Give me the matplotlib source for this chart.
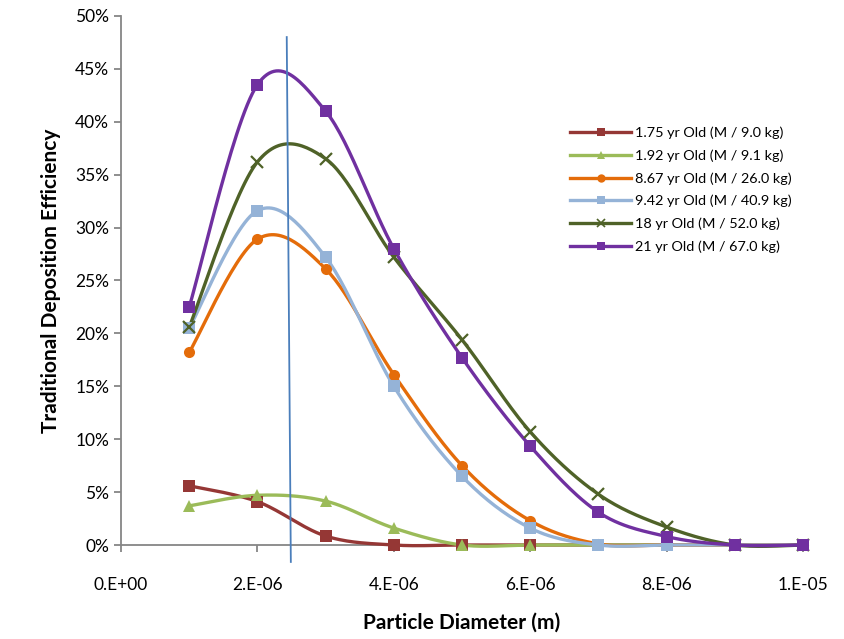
import numpy as np
import matplotlib
matplotlib.use("Agg")
import matplotlib.pyplot as plt
from matplotlib.ticker import FuncFormatter, MultipleLocator

plt.rcParams['font.family'] = ['Lato', 'DejaVu Sans']

# particle diameter (m)
diameters = [1e-6, 2e-6, 3e-6, 4e-6, 5e-6, 6e-6, 7e-6, 8e-6, 9e-6, 1e-5]

labels = [
  "1.75 yr Old (M / 9.0 kg)",
  "1.92 yr Old (M / 9.1 kg)",
  "8.67 yr Old (M / 26.0 kg)",
  "9.42 yr Old (M / 40.9 kg)",
  "18 yr Old (M / 52.0 kg)",
  "21 yr Old (M / 67.0 kg)",
]

eff_175 = [0.056, 0.041, 0.0085, 0.0, 0.0, 0.0, 0.0, 0.0, 0.0, 0.0]
eff_192 = [0.037, 0.047, 0.0415, 0.016, 0.0, 0.0, 0.0, 0.0, 0.0, 0.0]
eff_867 = [0.182, 0.289, 0.261, 0.161, 0.075, 0.023, 0.001, 0.0, 0.0, 0.0]
eff_942 = [0.205, 0.316, 0.272, 0.150, 0.065, 0.016, 0.0, 0.0, 0.0, 0.0]
eff_18 = [0.206, 0.362, 0.365, 0.272, 0.194, 0.107, 0.048, 0.017, 0.0, 0.0]
eff_21 = [0.225, 0.435, 0.410, 0.280, 0.177, 0.0935, 0.031, 0.008, 0.0, 0.0]

# the hand drawn marker line near 2.5 um
marker_line_x = [2.43e-6, 2.49e-6]
marker_line_y = [0.48, -0.016]

series = [eff_175, eff_192, eff_867, eff_942, eff_18, eff_21]
colors = ["#953735", "#9bbb59", "#e46c0a", "#95b3d7", "#4f6228", "#7030a0"]
markers = ["s", "^", "o", "s", "x", "s"]


def smooth(xs, ys, n=30):
  """Excel style smoothed line: cubic bezier with catmull-rom control points."""
  xs = np.asarray(xs, float)
  ys = np.asarray(ys, float)
  px = np.concatenate([[xs[0]], xs, [xs[-1]]])
  py = np.concatenate([[ys[0]], ys, [ys[-1]]])
  out_x, out_y = [], []
  t = np.linspace(0, 1, n)
  for i in range(1, len(px) - 2):
    p0 = np.array([px[i], py[i]])
    p3 = np.array([px[i + 1], py[i + 1]])
    c1 = p0 + (np.array([px[i + 1], py[i + 1]]) - np.array([px[i - 1], py[i - 1]])) / 6
    c2 = p3 - (np.array([px[i + 2], py[i + 2]]) - np.array([px[i], py[i]])) / 6
    b = ((1 - t) ** 3)[:, None] * p0 + (3 * (1 - t) ** 2 * t)[:, None] * c1 \
      + (3 * (1 - t) * t ** 2)[:, None] * c2 + (t ** 3)[:, None] * p3
    out_x.extend(b[:, 0])
    out_y.extend(b[:, 1])
  return np.array(out_x), np.array(out_y)


fig = plt.figure(figsize=(8.44, 6.39), dpi=100)
ax = fig.add_axes([0.1434, 0.1471, 0.808, 0.828])

for ys, col, mk, lab in zip(series, colors, markers, labels):
  # smooth in scaled units so the curve shape matches the screen
  sx, sy = smooth(np.array(diameters) * 1e6, np.array(ys) * 10)
  ax.plot(sx / 1e6, sy / 10, color=col, lw=2.4, zorder=2, clip_on=False)
  mew = 1.6 if mk == "x" else 0
  ax.plot(diameters, ys, ls="none", marker=mk, color=col, ms=8, mew=mew, zorder=3, clip_on=False)
  ax.plot([], [], color=col, lw=2.4, marker=mk, ms=6, mew=1.2 if mk == "x" else 0, label=lab)

ax.plot(marker_line_x, marker_line_y, color="#4a7ebb", lw=1.3, clip_on=False, zorder=4)

ax.set_xlim(0, 1e-5)
ax.set_ylim(0, 0.5)
ax.xaxis.set_major_locator(MultipleLocator(2e-6))
ax.yaxis.set_major_locator(MultipleLocator(0.05))
ax.xaxis.set_major_formatter(FuncFormatter(
  lambda v, p: "0.E+00" if abs(v) < 1e-12 else "{:.0e}".format(v).replace("e-0", ".E-0")))
ax.yaxis.set_major_formatter(FuncFormatter(lambda v, p: "%d%%" % round(v * 100)))

for s in ["top", "right"]:
  ax.spines[s].set_visible(False)
for s in ["left", "bottom"]:
  ax.spines[s].set_color("#868686")
  ax.spines[s].set_linewidth(1.3)
  ax.spines[s].set_zorder(1)
ax.tick_params(axis="both", colors="#868686", width=1.3, length=5, labelsize=12.5, labelcolor="black")
ax.tick_params(axis="x", pad=18)

ax.set_xlabel("Particle Diameter (m)", fontsize=15, fontweight="bold", labelpad=14)
ax.set_ylabel("Traditional Deposition Efficiency", fontsize=15, fontweight="bold", labelpad=10)

ax.legend(loc="upper left", bbox_to_anchor=(0.64, 0.815), frameon=False, fontsize=10.4,
          handlelength=4.2, labelspacing=0.7, handletextpad=0.3)

fig.savefig("out.png", dpi=100)
